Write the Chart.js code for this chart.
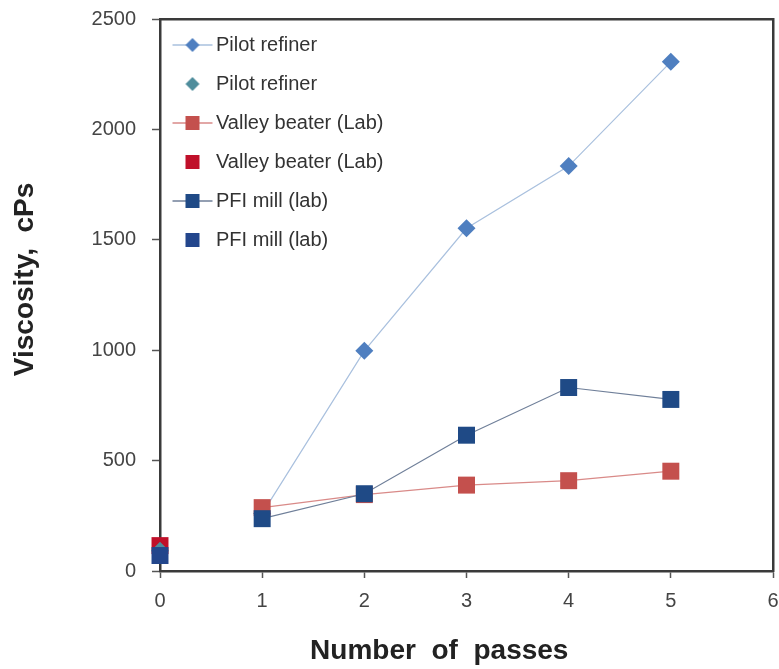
<!DOCTYPE html>
<html lang="en">
<head>
<meta charset="UTF-8">
<title>Viscosity vs number of passes</title>
<script src="https://cdn.jsdelivr.net/npm/chart.js@4"></script>
<style>
  html, body { margin: 0; padding: 0; background: #fff; }
</style>
</head>
<body>
<canvas id="myChart" width="779" height="669"></canvas>
<script>
// values
const passes = [1, 2, 3, 4, 5];
const pilotRefiner = [260, 997, 1552, 1834, 2306];
const valleyBeater = [287, 346, 389, 409, 452];
const pfiMill = [237, 350, 615, 831, 777];

// single points at zero passes (no line)
const startPass = [0];
const pilotStart = [92];
const valleyStart = [115];
const pfiStart = [70];

const xTicks = [0, 1, 2, 3, 4, 5, 6];
const yTicks = [0, 500, 1000, 1500, 2000, 2500];

const FONT = "'Liberation Sans', Arial, sans-serif";
const AXIS = '#3a3a3a';

const pts = (xs, ys) => xs.map((x, i) => ({ x: x, y: ys[i] }));

// small picture for each legend entry: line (optional) plus marker
function legendIcon(fill, shape, lineColor) {
    const c = document.createElement('canvas');
    c.width = 42; c.height = 20;
    const g = c.getContext('2d');
    if (lineColor) {
        g.strokeStyle = lineColor;
        g.lineWidth = 1.5;
        g.beginPath(); g.moveTo(1, 10); g.lineTo(41, 10); g.stroke();
    }
    g.fillStyle = fill;
    g.beginPath();
    if (shape === 'diamond') {
        g.moveTo(21, 3); g.lineTo(28, 10); g.lineTo(21, 17); g.lineTo(14, 10);
    } else {
        g.rect(14, 3, 14, 14);
    }
    g.closePath(); g.fill();
    return c;
}

const pilotColor = '#4f7fc0';
const pilotLine = '#a9c0de';
const pilotStartColor = '#4f8d9c';
const valleyColor = '#c4504d';
const valleyLine = '#d98a88';
const valleyStartColor = '#c0102a';
const pfiColor = '#1f4a86';
const pfiLine = '#6f7f99';
const pfiStartColor = '#23468c';

const datasets = [
    {
        label: 'Pilot refiner', data: pts(passes, pilotRefiner),
        borderColor: pilotLine, borderWidth: 1.2, showLine: true,
        pointStyle: 'rectRot', pointRadius: 9, pointBackgroundColor: pilotColor, pointBorderWidth: 0,
        icon: legendIcon(pilotColor, 'diamond', pilotLine), order: 5
    },
    {
        label: 'Pilot refiner', data: pts(startPass, pilotStart),
        showLine: false,
        pointStyle: 'rectRot', pointRadius: 9, pointBackgroundColor: pilotStartColor, pointBorderWidth: 0,
        icon: legendIcon(pilotStartColor, 'diamond', null), order: 2
    },
    {
        label: 'Valley beater (Lab)', data: pts(passes, valleyBeater),
        borderColor: valleyLine, borderWidth: 1.2, showLine: true,
        pointStyle: 'rect', pointRadius: 12, pointBackgroundColor: valleyColor, pointBorderWidth: 0,
        icon: legendIcon(valleyColor, 'square', valleyLine), order: 4
    },
    {
        label: 'Valley beater (Lab)', data: pts(startPass, valleyStart),
        showLine: false,
        pointStyle: 'rect', pointRadius: 12, pointBackgroundColor: valleyStartColor, pointBorderWidth: 0,
        icon: legendIcon(valleyStartColor, 'square', null), order: 3
    },
    {
        label: 'PFI mill (lab)', data: pts(passes, pfiMill),
        borderColor: pfiLine, borderWidth: 1.2, showLine: true,
        pointStyle: 'rect', pointRadius: 12, pointBackgroundColor: pfiColor, pointBorderWidth: 0,
        icon: legendIcon(pfiColor, 'square', pfiLine), order: 0
    },
    {
        label: 'PFI mill (lab)', data: pts(startPass, pfiStart),
        showLine: false,
        pointStyle: 'rect', pointRadius: 12, pointBackgroundColor: pfiStartColor, pointBorderWidth: 0,
        icon: legendIcon(pfiStartColor, 'square', null), order: 1
    }
];
datasets.forEach(ds => { ds.clip = false; });

const ctx = document.getElementById('myChart').getContext('2d');
const myChart = new Chart(ctx, {
    type: 'scatter',
    data: { datasets: datasets },
    options: {
        responsive: false,
        animation: false,
        layout: { autoPadding: false, padding: { top: 19, right: 6, left: 0, bottom: 0 } },
        plugins: {
            tooltip: { enabled: false },
            legend: {
                position: 'chartArea',
                align: 'start',
                // empty title only pushes the entries down a little
                title: { display: true, text: ' ', font: { size: 10 }, padding: 2 },
                labels: {
                    usePointStyle: true,
                    pointStyleWidth: 27,
                    padding: 19,
                    color: '#333',
                    font: { family: FONT, size: 20 },
                    sort: (a, b) => a.datasetIndex - b.datasetIndex,
                    generateLabels: (chart) => chart.data.datasets.map((ds, i) => ({
                        text: ds.label,
                        pointStyle: ds.icon,
                        datasetIndex: i,
                        hidden: false,
                        lineWidth: 0,
                        fontColor: '#333'
                    }))
                }
            }
        },
        scales: {
            x: {
                type: 'linear', position: 'bottom', min: 0, max: 6,
                afterBuildTicks: (s) => { s.ticks = xTicks.map(v => ({ value: v })); },
                afterFit: (s) => { s.height = 98; s.paddingLeft = 0; s.paddingRight = 0; },
                grid: { display: true, drawOnChartArea: false, drawTicks: true, tickLength: 7, tickColor: '#555', tickWidth: 1.5 },
                border: { display: true, color: AXIS, width: 2.5 },
                ticks: { color: '#444', font: { family: FONT, size: 20 }, padding: 11, maxRotation: 0,
                         callback: (v) => String(v) },
                title: {
                    display: true, text: 'Number  of  passes       ', color: '#222',
                    font: { family: FONT, size: 28, weight: 'bold' },
                    padding: { top: 0, bottom: 1 }
                }
            },
            y: {
                type: 'linear', position: 'left', min: 0, max: 2500,
                afterBuildTicks: (s) => { s.ticks = yTicks.map(v => ({ value: v })); },
                afterFit: (s) => { s.width = 160; s.paddingTop = 0; s.paddingBottom = 0; },
                grid: { display: true, drawOnChartArea: false, drawTicks: true, tickLength: 8, tickColor: '#555', tickWidth: 1.5 },
                border: { display: true, color: AXIS, width: 2.5 },
                ticks: { color: '#444', font: { family: FONT, size: 20 }, padding: 16,
                         callback: (v) => String(v) },
                title: {
                    display: true, text: '    Viscosity,  cPs', color: '#222',
                    font: { family: FONT, size: 28, weight: 'bold' },
                    padding: { top: 8, bottom: 0 }
                }
            },
            xTop: {
                type: 'linear', position: 'top', min: 0, max: 6,
                afterFit: (s) => { s.height = 0; },
                grid: { display: false },
                ticks: { display: false },
                border: { display: true, color: AXIS, width: 2.5 }
            },
            yRight: {
                type: 'linear', position: 'right', min: 0, max: 2500,
                afterFit: (s) => { s.width = 0; },
                grid: { display: false },
                ticks: { display: false },
                border: { display: true, color: AXIS, width: 2.5 }
            }
        }
    }
});
</script>
</body>
</html>
